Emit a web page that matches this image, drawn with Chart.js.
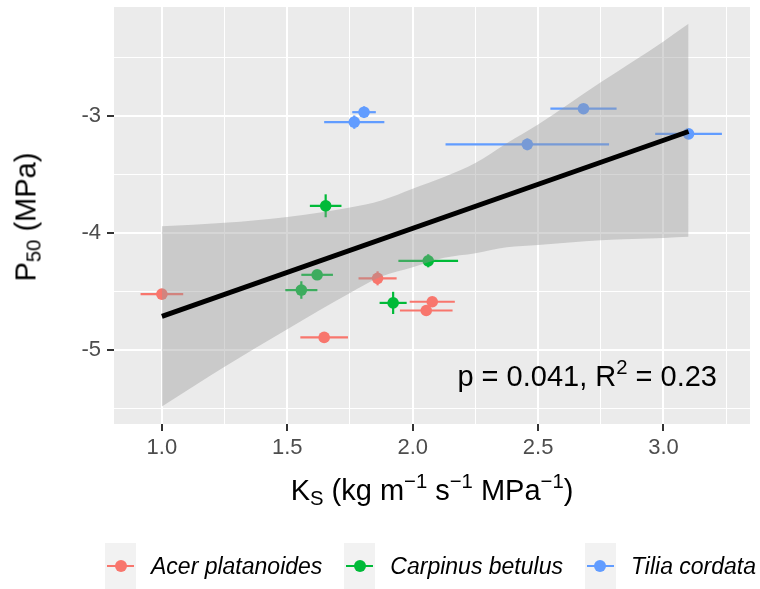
<!DOCTYPE html>
<html>
<head>
<meta charset="utf-8">
<title>P50 against Ks</title>
<script src="https://cdn.jsdelivr.net/npm/chart.js@4.4.0/dist/chart.umd.min.js"></script>
<style>
  body { margin: 0; background: #ffffff; }
  #wrap {
    position: relative;
    width: 760px;
    height: 589px;
    font-family: "Liberation Sans", Arial, sans-serif;
    color: #000000;
    overflow: hidden;
  }
  #chart { position: absolute; left: 0; top: 0; }
  .axis-title {
    position: absolute;
    font-size: 29px;
    line-height: 29px;
    white-space: nowrap;
  }
  sub, sup { font-size: 0.7em; line-height: 0; }
  sub { vertical-align: -0.25em; }
  sup { vertical-align: 0.6em; }
  #xTitle { left: 114px; width: 636px; top: 476px; text-align: center; }
  #yTitle { left: 26px; top: 217px; transform: translate(-50%, -50%) rotate(-90deg); }
  #stats {
    position: absolute;
    right: 43px;
    top: 362px;
    font-size: 29px;
    line-height: 29px;
    white-space: nowrap;
  }
  #legend {
    position: absolute;
    left: 105px;
    top: 543px;
    height: 46px;
    display: flex;
    align-items: center;
  }
  .item { display: flex; align-items: center; margin-right: 22px; }
  .key {
    position: relative;
    width: 31px;
    height: 46px;
    background: #F2F2F2;
    margin-right: 15px;
  }
  .key .bar { position: absolute; left: 2px; right: 2px; top: 22px; height: 2px; }
  .key .dot {
    position: absolute;
    left: 9.5px;
    top: 17px;
    width: 12px;
    height: 12px;
    border-radius: 50%;
  }
  .label { font-style: italic; font-size: 23px; line-height: 23px; white-space: nowrap; }
</style>
</head>
<body>
<div id="wrap">
  <canvas id="chart" width="760" height="589"></canvas>
  <div class="axis-title" id="yTitle">P<sub>50</sub> (MPa)</div>
  <div class="axis-title" id="xTitle">K<sub>S</sub> (kg m<sup>&minus;1</sup> s<sup>&minus;1</sup> MPa<sup>&minus;1</sup>)</div>
  <div id="stats"></div>
  <div id="legend"></div>
</div>
<script>
// Species, colours
const species = ['Acer platanoides', 'Carpinus betulus', 'Tilia cordata'];
const speciesColours = ['#F8766D', '#00BA38', '#619CFF'];

// Means and standard errors per tree (Ks in kg m-1 s-1 MPa-1, P50 in MPa)
const acerKs = [1.000, 1.647, 1.860, 2.078, 2.054];
const acerP50 = [-4.52, -4.89, -4.385, -4.585, -4.66];
const acerKsSe = [0.085, 0.095, 0.076, 0.090, 0.105];
const acerP50Se = [0, 0, 0.06, 0, 0];

const carpinusKs = [1.653, 1.619, 1.556, 2.062, 1.922];
const carpinusP50 = [-3.765, -4.355, -4.485, -4.235, -4.595];
const carpinusKsSe = [0.063, 0.063, 0.064, 0.119, 0.054];
const carpinusP50Se = [0.098, 0, 0.075, 0.056, 0.095];

const tiliaKs = [1.806, 1.767, 2.457, 2.681, 3.100];
const tiliaP50 = [-2.965, -3.05, -3.24, -2.935, -3.15];
const tiliaKsSe = [0.047, 0.120, 0.326, 0.132, 0.133];
const tiliaP50Se = [0.05, 0.057, 0.05, 0, 0];

// Linear fit and its 95% confidence band
const fitKs = [1.0, 3.1];
const fitP50 = [-4.71, -3.13];
const bandKs = [1.00, 1.25, 1.50, 1.75, 1.875, 2.00, 2.125, 2.25, 2.375, 2.50, 2.75, 3.00, 3.10];
const bandUpper = [-3.94, -3.91, -3.86, -3.78, -3.72, -3.62, -3.52, -3.40, -3.23, -3.07, -2.71, -2.36, -2.21];
const bandLower = [-5.48, -5.14, -4.82, -4.51, -4.37, -4.29, -4.21, -4.17, -4.12, -4.10, -4.06, -4.04, -4.03];

const pValue = '0.041';
const rSquared = '0.23';

// Axes
const xRange = [0.809, 3.345];
const yRange = [-5.63, -2.066];
const xMajorTicks = [1.0, 1.5, 2.0, 2.5, 3.0];
const xMinorTicks = [1.25, 1.75, 2.25, 2.75, 3.25];
const yMajorTicks = [-5, -4, -3];
const yMinorTicks = [-5.5, -4.5, -3.5, -2.5];

const FONT = '"Liberation Sans", Arial, sans-serif';

const groups = [
  { ks: acerKs, p50: acerP50, ksSe: acerKsSe, p50Se: acerP50Se },
  { ks: carpinusKs, p50: carpinusP50, ksSe: carpinusKsSe, p50Se: carpinusP50Se },
  { ks: tiliaKs, p50: tiliaP50, ksSe: tiliaKsSe, p50Se: tiliaP50Se }
];

function lineSet(points, colour, width, order) {
  return {
    type: 'line',
    data: points,
    borderColor: colour,
    borderWidth: width,
    borderCapStyle: 'butt',
    pointRadius: 0,
    pointHoverRadius: 0,
    fill: false,
    order: order
  };
}

const datasets = [];

// regression line on top
datasets.push(lineSet(fitKs.map((x, i) => ({ x: x, y: fitP50[i] })), '#000000', 5, 0));

// confidence band: upper edge fills down to the lower edge
const bandTop = lineSet(bandKs.map((x, i) => ({ x: x, y: bandUpper[i] })), 'rgba(0,0,0,0)', 1, 1);
bandTop.fill = '+1';
bandTop.backgroundColor = 'rgba(153,153,153,0.4)';
bandTop.cubicInterpolationMode = 'monotone';
datasets.push(bandTop);
const bandBottom = lineSet(bandKs.map((x, i) => ({ x: x, y: bandLower[i] })), 'rgba(0,0,0,0)', 1, 1);
bandBottom.cubicInterpolationMode = 'monotone';
datasets.push(bandBottom);

// points and error bars per species
groups.forEach((g, s) => {
  const colour = speciesColours[s];
  datasets.push({
    label: species[s],
    data: g.ks.map((x, i) => ({ x: x, y: g.p50[i] })),
    backgroundColor: colour,
    borderWidth: 0,
    pointRadius: 5.8,
    pointHoverRadius: 5.8,
    order: 2
  });
  g.ks.forEach((x, i) => {
    const y = g.p50[i];
    datasets.push(lineSet([{ x: x - g.ksSe[i], y: y }, { x: x + g.ksSe[i], y: y }], colour, 2.2, 3));
    if (g.p50Se[i] > 0) {
      datasets.push(lineSet([{ x: x, y: y - g.p50Se[i] }, { x: x, y: y + g.p50Se[i] }], colour, 2.2, 3));
    }
  });
});

function isMajor(list, v) {
  return list.some(m => Math.abs(m - v) < 1e-9);
}

const panelBackground = {
  id: 'panelBackground',
  beforeDraw(chart) {
    const { ctx, chartArea: a } = chart;
    ctx.save();
    ctx.fillStyle = '#EBEBEB';
    ctx.fillRect(a.left, a.top, a.right - a.left, a.bottom - a.top);
    ctx.restore();
  }
};

new Chart(document.getElementById('chart'), {
  type: 'scatter',
  data: { datasets: datasets },
  plugins: [panelBackground],
  options: {
    responsive: false,
    devicePixelRatio: 1,
    animation: false,
    events: [],
    layout: { padding: { left: 0, right: 10, top: 7, bottom: 125 } },
    plugins: {
      legend: { display: false },
      tooltip: { enabled: false }
    },
    scales: {
      x: {
        type: 'linear',
        min: xRange[0],
        max: xRange[1],
        afterBuildTicks: scale => {
          scale.ticks = xMajorTicks.concat(xMinorTicks).sort((a, b) => a - b).map(v => ({ value: v }));
        },
        afterFit: scale => {
          scale.height = 40;
          scale.paddingLeft = 0;
          scale.paddingRight = 0;
        },
        border: { display: false },
        grid: {
          color: '#FFFFFF',
          lineWidth: c => isMajor(xMajorTicks, c.tick.value) ? 2 : 1,
          tickLength: 7,
          tickWidth: 2,
          tickColor: c => isMajor(xMajorTicks, c.tick.value) ? '#333333' : 'rgba(0,0,0,0)'
        },
        ticks: {
          autoSkip: false,
          maxRotation: 0,
          padding: 4,
          color: '#4D4D4D',
          font: { family: FONT, size: 22 },
          callback: v => isMajor(xMajorTicks, v) ? v.toFixed(1) : ''
        }
      },
      y: {
        type: 'linear',
        min: yRange[0],
        max: yRange[1],
        afterBuildTicks: scale => {
          scale.ticks = yMajorTicks.concat(yMinorTicks).sort((a, b) => a - b).map(v => ({ value: v }));
        },
        afterFit: scale => {
          scale.width = 114;
          scale.paddingTop = 0;
          scale.paddingBottom = 0;
        },
        border: { display: false },
        grid: {
          color: '#FFFFFF',
          lineWidth: c => isMajor(yMajorTicks, c.tick.value) ? 2 : 1,
          tickLength: 7,
          tickWidth: 2,
          tickColor: c => isMajor(yMajorTicks, c.tick.value) ? '#333333' : 'rgba(0,0,0,0)'
        },
        ticks: {
          autoSkip: false,
          padding: 6,
          color: '#4D4D4D',
          font: { family: FONT, size: 22 },
          callback: v => isMajor(yMajorTicks, v) ? String(v) : ''
        }
      }
    }
  }
});

// statistics label
document.getElementById('stats').innerHTML = 'p = ' + pValue + ', R<sup>2</sup> = ' + rSquared;

// legend below the panel
const legend = document.getElementById('legend');
species.forEach((name, s) => {
  const item = document.createElement('div');
  item.className = 'item';
  item.innerHTML =
    '<div class="key"><div class="bar" style="background:' + speciesColours[s] + '"></div>' +
    '<div class="dot" style="background:' + speciesColours[s] + '"></div></div>' +
    '<span class="label">' + name + '</span>';
  legend.appendChild(item);
});
</script>
</body>
</html>
